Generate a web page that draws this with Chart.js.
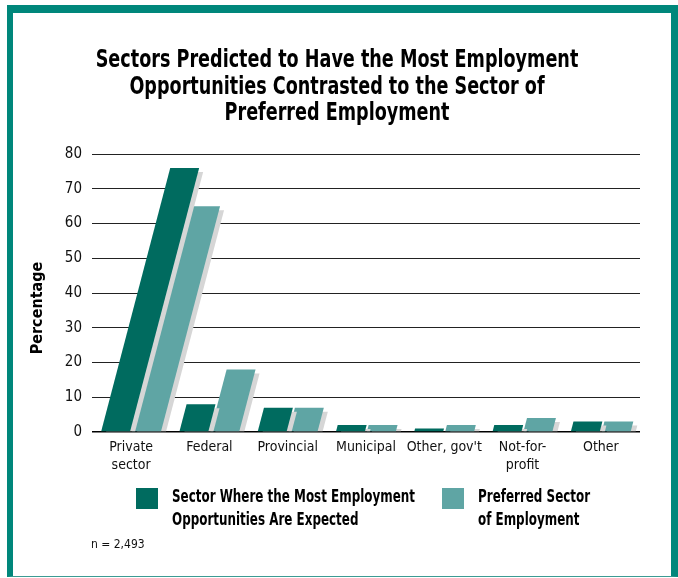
<!DOCTYPE html>
<html>
<head>
<meta charset="utf-8">
<script src="https://cdn.jsdelivr.net/npm/chart.js@4.4.1/dist/chart.umd.min.js"></script>
<style>
  body { margin: 0; background: #fff; }
  #wrap { position: relative; width: 678px; height: 578px; overflow: hidden; }
  #frame { position: absolute; left: 7px; top: 5px; width: 671px; height: 572px; box-sizing: border-box;
           border-left: 6px solid #00877b; border-top: 8px solid #00877b; border-right: 7px solid #00877b;
           border-bottom: 1px solid #3c9a93; pointer-events: none; }
  canvas { position: absolute; left: 0; top: 0; }
  .font { font-family: 'DejaVu Sans Condensed', 'Liberation Sans Narrow', sans-serif; }
  .key { position: absolute; top: 485px; display: flex; align-items: flex-start; }
  .key i { display: block; width: 22px; height: 21px; margin-top: 3px; margin-right: 14px; }
  .key span { display: block; font-weight: bold; font-size: 17px; line-height: 23px; color: #000;
              transform: scaleX(0.78); transform-origin: left top; white-space: nowrap; }
  #note { position: absolute; left: 91px; top: 537px; font-size: 12px; color: #111; }
</style>
</head>
<body>
<div id="wrap" class="font">
  <canvas id="chart" width="678" height="578"></canvas>
  <div id="frame"></div>
  <div id="legend"></div>
  <div id="note">n = 2,493</div>
</div>
<script>
const titleLines = ['Sectors Predicted to Have the Most Employment', 'Opportunities Contrasted to the Sector of', 'Preferred Employment'];
const sectors = [['Private', 'sector'], 'Federal', 'Provincial', 'Municipal', "Other, gov't", ['Not-for-', 'profit'], 'Other'];
const expected = [76, 8, 7, 2, 1, 2, 3];
const preferred = [65, 18, 7, 2, 2, 4, 3];
const seriesNames = [['Sector Where the Most Employment', 'Opportunities Are Expected'], ['Preferred Sector', 'of Employment']];
const seriesColors = ['#006b5f', '#5fa5a4'];
const yTicks = [0, 10, 20, 30, 40, 50, 60, 70, 80];

const fontName = "'DejaVu Sans Condensed', 'Liberation Sans Narrow', sans-serif";
Chart.defaults.font.family = fontName;
Chart.defaults.color = '#000';

// legend in html so the labels can wrap on two lines
const legendPos = [136, 442];
seriesNames.forEach((lines, i) => {
  const d = document.createElement('div');
  d.className = 'key';
  d.style.left = legendPos[i] + 'px';
  d.innerHTML = '<i style="background:' + seriesColors[i] + '"></i><span>' + lines.join('<br>') + '</span>';
  document.getElementById('legend').appendChild(d);
});

function poly(ctx, l, r, top, base, shift, color) {
  ctx.beginPath();
  ctx.moveTo(l, base);
  ctx.lineTo(r, base);
  ctx.lineTo(r + shift, top);
  ctx.lineTo(l + shift, top);
  ctx.closePath();
  ctx.fillStyle = color;
  ctx.fill();
}

// slanted bars with a grey drop shadow, plus title and y label
const slantBars = {
  id: 'slantBars',
  beforeDatasetDraw(chart, args) {
    const ctx = chart.ctx;
    const area = chart.chartArea;
    const color = chart.data.datasets[args.index].backgroundColor;
    args.meta.data.forEach(bar => {
      const w = bar.width - 2;
      const h = bar.base - bar.y;
      const shift = 0.262 * h;
      const l = bar.x - w / 2, r = bar.x + w / 2;
      ctx.save();
      ctx.beginPath();
      ctx.rect(area.left, 0, chart.width, bar.base);
      ctx.clip();
      poly(ctx, l + 4, r + 4, bar.y + 4, bar.base + 4, shift, '#d6d6d6');
      ctx.restore();
      poly(ctx, l, r, bar.y, bar.base, shift, color);
    });
    return false;
  },
  afterDraw(chart) {
    const ctx = chart.ctx;
    ctx.save();
    ctx.fillStyle = '#000';
    ctx.textAlign = 'center';
    ctx.textBaseline = 'middle';
    ctx.font = 'bold 24px ' + fontName;
    titleLines.forEach((line, i) => {
      ctx.save();
      ctx.translate(337, 61 + i * 26.5);
      ctx.scale(0.815, 1);
      ctx.fillText(line, 0, 0);
      ctx.restore();
    });
    ctx.translate(38, 308);
    ctx.rotate(-Math.PI / 2);
    ctx.font = 'bold 16px ' + fontName;
    ctx.fillText('Percentage', 0, 0);
    ctx.restore();
  }
};

new Chart(document.getElementById('chart'), {
  type: 'bar',
  data: {
    labels: sectors,
    datasets: [
      { label: seriesNames[0].join(' '), data: expected, backgroundColor: seriesColors[0] },
      { label: seriesNames[1].join(' '), data: preferred, backgroundColor: seriesColors[1] }
    ]
  },
  options: {
    responsive: false,
    animation: false,
    devicePixelRatio: 1,
    layout: { padding: { left: 0, right: 38, bottom: 100, top: 154 } },
    datasets: { bar: { categoryPercentage: 0.79, barPercentage: 1 } },
    plugins: {
      legend: { display: false },
      tooltip: { enabled: false },
      title: { display: false }
    },
    scales: {
      x: {
        grid: { display: false, drawTicks: false },
        border: { display: false },
        ticks: { font: { size: 14, lineHeight: 1.3 }, color: '#111', padding: 6, maxRotation: 0, autoSkip: false },
        afterFit: s => { s.height = 46; }
      },
      y: {
        min: 0,
        max: 80,
        afterBuildTicks: s => { s.ticks = yTicks.map(v => ({ value: v })); },
        grid: {
          drawTicks: false,
          color: ctx => ctx.tick && ctx.tick.value === 0 ? '#000' : '#222',
          lineWidth: ctx => ctx.tick && ctx.tick.value === 0 ? 1.5 : 1
        },
        border: { display: false },
        ticks: { font: { size: 15 }, color: '#111', padding: 10 },
        afterFit: s => { s.width = 92; }
      }
    }
  },
  plugins: [slantBars]
});
</script>
</body>
</html>
